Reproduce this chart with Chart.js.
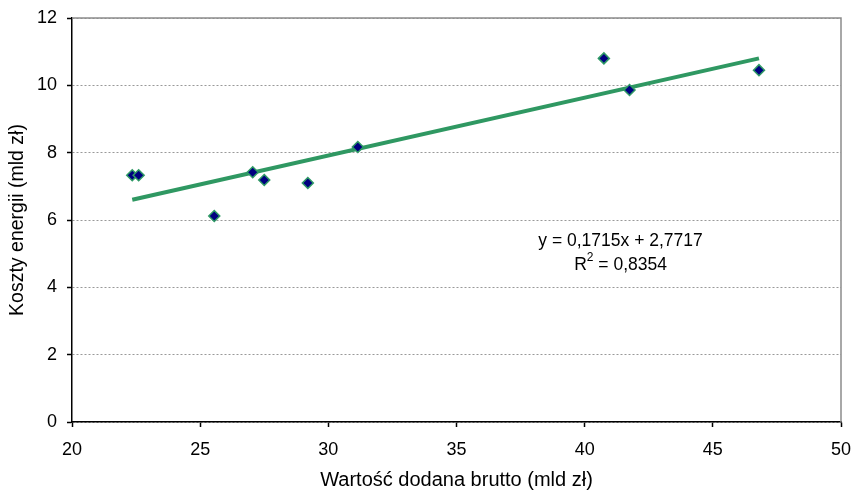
<!DOCTYPE html>
<html>
<head>
    <title>Koszty energii</title>
    <script src="https://cdn.jsdelivr.net/npm/chart.js"></script>
    <style>
        html, body { margin: 0; padding: 0; background: #fff; }
        #wrap { width: 855px; height: 492px; }
    </style>
</head>
<body>
    <div id="wrap"><canvas id="wykres" width="855" height="492"></canvas></div>

    <script>
        // Dane
        var wartoscDodana = [22.35, 22.6, 25.55, 27.05, 27.5, 29.2, 31.15, 40.75, 41.75, 46.8];
        var kosztyEnergii = [7.33, 7.33, 6.12, 7.42, 7.19, 7.1, 8.17, 10.8, 9.86, 10.45];

        // Linia trendu (końce)
        var trendX = [22.35, 46.8];
        var trendY = [6.6, 10.8];

        var rownanie = ['y = 0,1715x + 2,7717', 'R', '2', ' = 0,8354'];
        var xTicks = [20, 25, 30, 35, 40, 45, 50];
        var yTicks = [0, 2, 4, 6, 8, 10, 12];

        var punkty = wartoscDodana.map(function (x, i) { return { x: x, y: kosztyEnergii[i] }; });
        var trend = trendX.map(function (x, i) { return { x: x, y: trendY[i] }; });

        var font = 'Liberation Sans, Arial, sans-serif';

        // ramka (góra i prawa) + równanie
        var ramka = {
            id: 'ramka',
            beforeDatasetsDraw: function (chart) {
                var a = chart.chartArea, ctx = chart.ctx;
                ctx.save();
                ctx.strokeStyle = '#8c8c8c';
                ctx.lineWidth = 1.5;
                ctx.beginPath();
                ctx.moveTo(a.left, a.top);
                ctx.lineTo(a.right, a.top);
                ctx.lineTo(a.right, a.bottom);
                ctx.stroke();
                ctx.restore();
            },
            afterDatasetsDraw: function (chart) {
                var ctx = chart.ctx;
                var sx = chart.scales.x, sy = chart.scales.y;
                var cx = sx.getPixelForValue(41.4);
                var y1 = sy.getPixelForValue(5.38);
                var y2 = sy.getPixelForValue(4.67);
                ctx.save();
                ctx.fillStyle = '#000';
                ctx.font = '17.5px ' + font;
                ctx.textBaseline = 'middle';
                ctx.textAlign = 'center';
                ctx.fillText(rownanie[0], cx, y1);
                // R^2 = ...
                var wR = ctx.measureText(rownanie[1]).width;
                ctx.font = '12px ' + font;
                var w2 = ctx.measureText(rownanie[2]).width;
                ctx.font = '17.5px ' + font;
                var wRest = ctx.measureText(rownanie[3]).width;
                var start = cx - (wR + w2 + wRest) / 2;
                ctx.textAlign = 'left';
                ctx.fillText(rownanie[1], start, y2);
                ctx.font = '12px ' + font;
                ctx.fillText(rownanie[2], start + wR, y2 - 7);
                ctx.font = '17.5px ' + font;
                ctx.fillText(rownanie[3], start + wR + w2, y2);
                ctx.restore();
            }
        };

        var ctx = document.getElementById('wykres').getContext('2d');
        var wykres = new Chart(ctx, {
            type: 'scatter',
            data: {
                datasets: [{
                    label: 'Trend',
                    type: 'line',
                    data: trend,
                    borderColor: '#2f9862',
                    borderWidth: 4,
                    pointRadius: 0,
                    fill: false,
                    order: 2
                }, {
                    label: 'Dane',
                    data: punkty,
                    pointStyle: 'rectRot',
                    pointRadius: 5.5,
                    backgroundColor: '#000080',
                    borderColor: '#2f9a66',
                    borderWidth: 1.5,
                    order: 1
                }]
            },
            options: {
                responsive: false,
                animation: false,
                layout: { padding: { top: 18, right: 14, left: 0, bottom: 0 } },
                plugins: {
                    legend: { display: false },
                    tooltip: { enabled: false }
                },
                scales: {
                    x: {
                        type: 'linear',
                        min: 20,
                        max: 50,
                        afterBuildTicks: function (s) { s.ticks = xTicks.map(function (v) { return { value: v }; }); },
                        afterFit: function (s) { s.height = 70; s.paddingLeft = 0; s.paddingRight = 0; },
                        grid: { drawOnChartArea: false, drawTicks: true, tickLength: 5, tickColor: '#000', tickWidth: 1.5 },
                        border: { color: '#000', width: 1.5 },
                        ticks: { color: '#000', padding: 12, maxRotation: 0, font: { family: font, size: 18 } },
                        title: { display: true, text: 'Wartość dodana brutto (mld zł)', color: '#000', padding: { top: 0, bottom: 0 }, font: { family: font, size: 20 } }
                    },
                    y: {
                        type: 'linear',
                        min: 0,
                        max: 12,
                        afterBuildTicks: function (s) { s.ticks = yTicks.map(function (v) { return { value: v }; }); },
                        afterFit: function (s) { s.width = 72; s.paddingTop = 0; s.paddingBottom = 0; },
                        grid: { color: '#999', lineWidth: 1, drawTicks: true, tickLength: 5, tickColor: '#000', tickWidth: 1.5, tickBorderDash: [] },
                        border: { color: '#000', width: 1.5, dash: [2, 2] },
                        ticks: { color: '#000', padding: 10, font: { family: font, size: 18 } },
                        title: { display: true, text: 'Koszty energii (mld zł)', color: '#000', padding: { top: 6, bottom: 0 }, font: { family: font, size: 19.5 } }
                    }
                }
            },
            plugins: [ramka]
        });
    </script>
</body>
</html>
